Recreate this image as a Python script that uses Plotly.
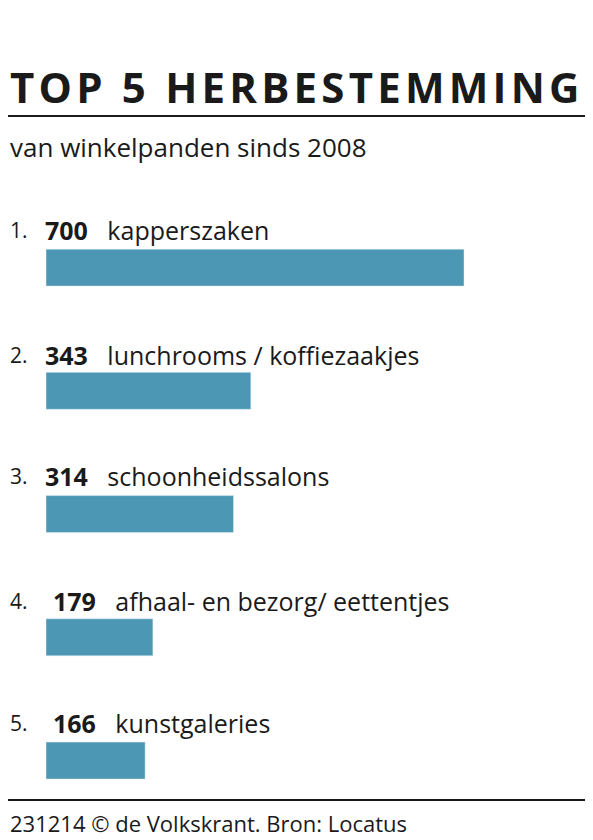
import plotly.graph_objects as go

ranks = ["1.", "2.", "3.", "4.", "5."]
values = [700, 343, 314, 179, 166]
labels = ["kapperszaken", "lunchrooms / koffiezaakjes", "schoonheidssalons",
          "afhaal- en bezorg/ eettentjes", "kunstgaleries"]

OFF = 8  # page offset of the plot div
W, H = 593 - OFF, 840 - OFF
ml, mt, mb = 46 - OFF, 206 - OFF, 40
pw, ph = W - ml, H - mt - mb
px_per_unit = 418 / 700
FONT = "Open Sans"
TXT = "#1a1a1a"


def px_x(p):  # reference pixel x -> paper
    return (p - OFF - ml) / pw


def px_y(p):  # reference pixel y -> paper
    return (H - mb - (p - OFF)) / ph


idx = list(range(len(values)))
fig = go.Figure(go.Bar(x=values, y=idx, orientation="h", width=0.3,
                       marker_color="#4b97b4", hoverinfo="skip"))

row_y = [230, 355, 476, 601, 723]
ann = []
for i, (r, v, l) in enumerate(zip(ranks, values, labels)):
    ann.append(dict(x=px_x(8), y=px_y(row_y[i]), xref="paper", yref="paper", text=r,
                    showarrow=False, xanchor="left", yanchor="middle",
                    font=dict(family=FONT, size=21, color=TXT)))
    nx = 51 if v < 200 else 43
    ann.append(dict(x=px_x(nx), y=px_y(row_y[i]), xref="paper", yref="paper",
                    text="<b>%d</b>   %s" % (v, l),
                    showarrow=False, xanchor="left", yanchor="middle",
                    font=dict(family=FONT, size=25, color=TXT)))

hs = "\u200a"
title = hs.join("TOP 5 HERBESTEMMING")
ann.append(dict(x=px_x(8), y=px_y(86), xref="paper", yref="paper",
                text="<b>" + title + "</b>", showarrow=False,
                xanchor="left", yanchor="middle",
                font=dict(family=FONT, size=42, color=TXT)))
ann.append(dict(x=px_x(8), y=px_y(147), xref="paper", yref="paper",
                text="van winkelpanden sinds 2008", showarrow=False,
                xanchor="left", yanchor="middle",
                font=dict(family=FONT, size=26, color=TXT)))
ann.append(dict(x=px_x(8), y=px_y(823), xref="paper", yref="paper",
                text="231214 © de Volkskrant. Bron: Locatus", showarrow=False,
                xanchor="left", yanchor="middle",
                font=dict(family=FONT, size=22, color=TXT)))

shapes = [
    dict(type="line", xref="paper", yref="paper", x0=px_x(OFF), x1=px_x(588),
         y0=px_y(116), y1=px_y(116), line=dict(color=TXT, width=2)),
    dict(type="line", xref="paper", yref="paper", x0=px_x(OFF), x1=px_x(588),
         y0=px_y(800), y1=px_y(800), line=dict(color=TXT, width=2)),
]

fig.update_layout(
    width=W, height=H, margin=dict(l=ml, r=0, t=mt, b=mb),
    plot_bgcolor="white", paper_bgcolor="white", showlegend=False,
    xaxis=dict(range=[0, pw / px_per_unit], visible=False, fixedrange=True),
    yaxis=dict(range=[4.32, -0.5], visible=False, fixedrange=True),
    annotations=ann, shapes=shapes,
)

fig.write_html("out.html")
